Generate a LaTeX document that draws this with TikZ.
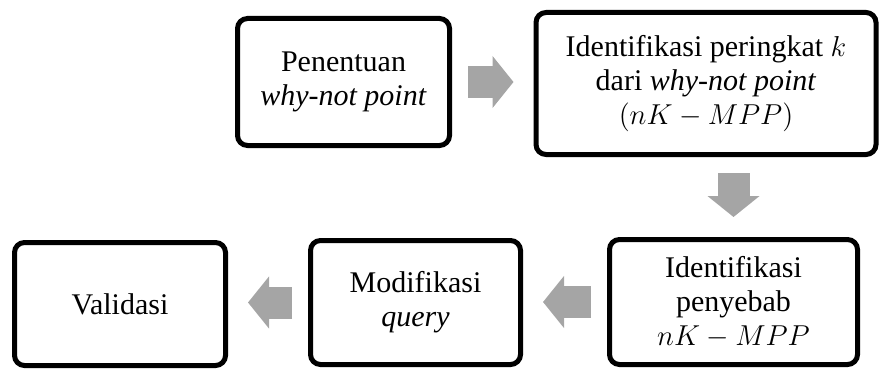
\documentclass[tikz,border=0pt]{standalone}
\usepackage{fontspec}
\setmainfont{Liberation Serif}
\usetikzlibrary{arrows.meta}
\definecolor{arrowgray}{HTML}{A5A5A5}

\begin{document}
\begin{tikzpicture}[x=0.5pt,y=-0.5pt,
  box/.style={draw,line width=2.5pt,rounded corners=5pt,align=center,inner sep=0pt,
    font=\fontsize{15pt}{17pt}\selectfont},
  flow/.style={draw=arrowgray,line width=16pt,shorten <=8pt,shorten >=10pt,
    -{Triangle[length=10.5pt,width=25.5pt,fill=arrowgray]}}]
\useasboundingbox (0,0) rectangle (887,369);
% kotak proses
\node[box,minimum width=106pt,minimum height=63.5pt] (penentuan) at (343.5,82)
  {Penentuan\\\textit{why-not point}};
\node[box,minimum width=170pt,minimum height=71pt] (peringkat) at (706,83.5)
  {Identifikasi peringkat $k$\\dari \textit{why-not point}\\$(nK-MPP)$};
\node[box,minimum width=124pt,minimum height=62.5pt] (penyebab) at (733.5,302)
  {Identifikasi\\penyebab\\$nK-MPP$};
\node[box,minimum width=105pt,minimum height=62pt] (modifikasi) at (415.5,302.5)
  {Modifikasi\\\textit{query}};
\node[box,minimum width=105.5pt,minimum height=61.5pt] (validasi) at (120,304)
  {Validasi};
% panah
\draw[flow] (penentuan.east) -- (penentuan.east -| peringkat.west);
\draw[flow] (penyebab.north |- peringkat.south) -- (penyebab.north);
\draw[flow] (penyebab.west) -- (penyebab.west -| modifikasi.east);
\draw[flow] (modifikasi.west) -- (modifikasi.west -| validasi.east);
\end{tikzpicture}
\end{document}
